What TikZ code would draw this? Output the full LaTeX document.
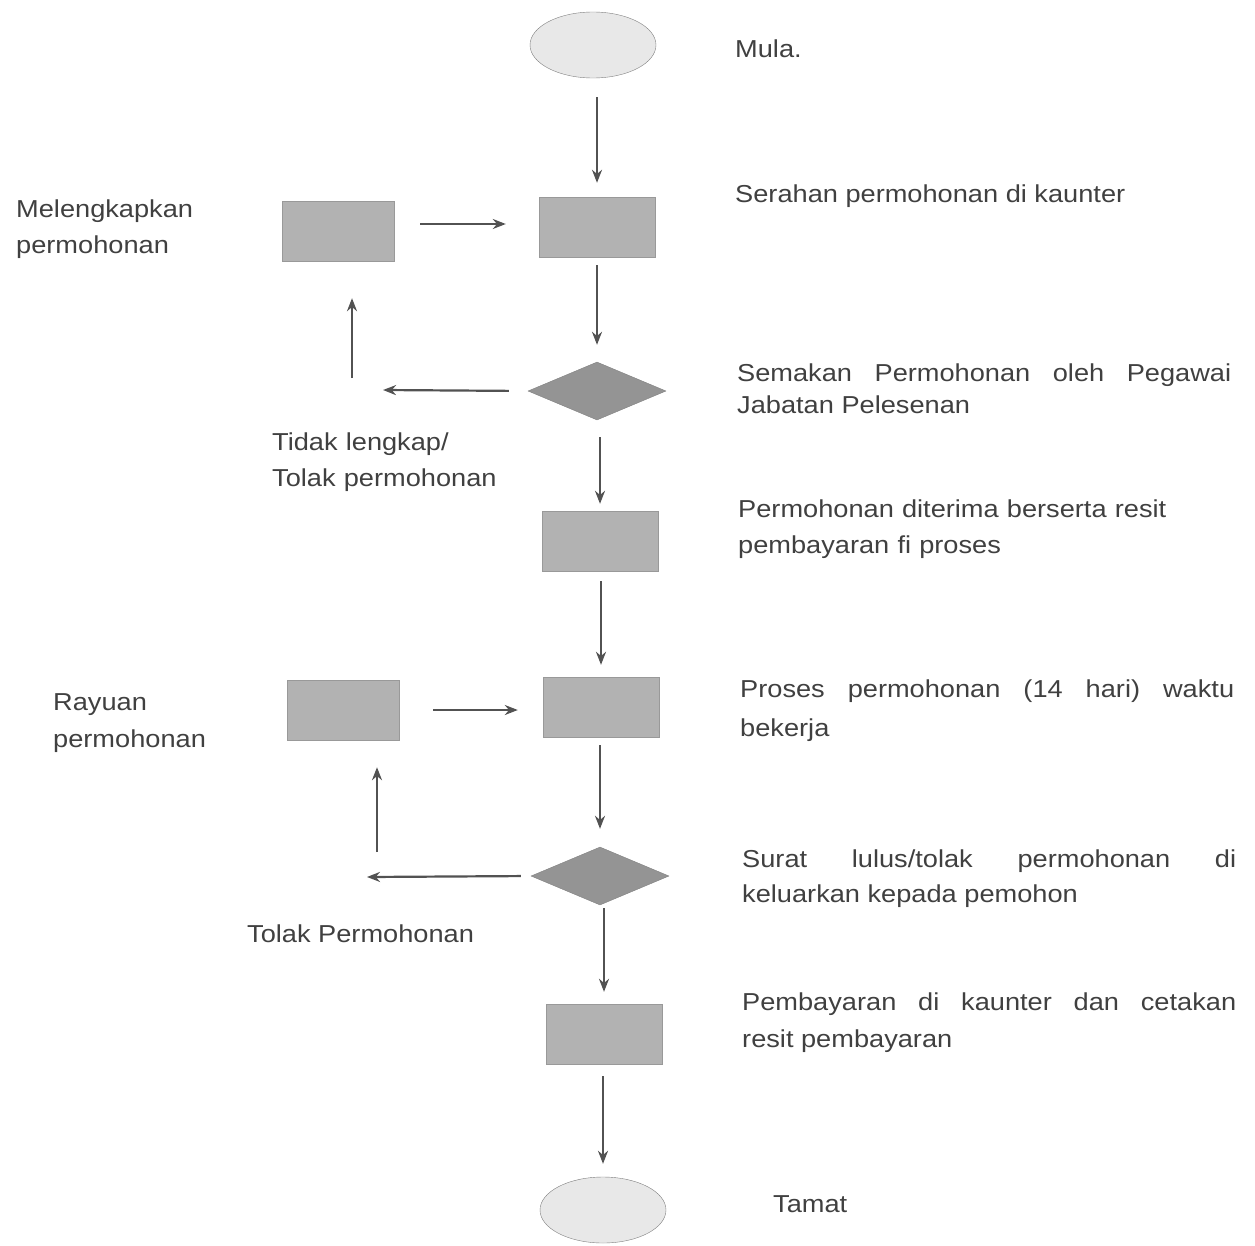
\documentclass[tikz,border=0pt]{standalone}
\usepackage{fontspec}
\setmainfont[FakeStretch=1.11]{Liberation Sans}
\usetikzlibrary{arrows.meta, shapes.geometric}

\tikzset{
  box/.style={rectangle, draw=black!40, fill=black!30, minimum width=116pt, minimum height=60pt, inner sep=0pt},
  lbox/.style={box, minimum width=112pt},
  mulatamat/.style={ellipse, draw=black!50, fill=black!9, minimum width=126pt, minimum height=66pt, inner sep=0pt},
  semak/.style={diamond, draw=black!50, fill=black!42, minimum width=138pt, minimum height=58pt, inner sep=0pt},
  arr/.style={-{Stealth[length=13pt,width=10pt]}, draw=black!68, line width=2.2pt},
  txt/.style={anchor=base west, inner sep=0pt, text=black!75, font=\fontsize{24.5}{36}\selectfont},
  para/.style={txt, text width=494pt, align=justify},
  lpara/.style={txt, text width=300pt, align=left},
}

\begin{document}
\begin{tikzpicture}[x=1pt,y=-1pt]
\useasboundingbox (0,0) rectangle (1255,1245);
%\draw[step=50,gray,very thin] (0,0) grid (1255,1245);
\node[mulatamat] (mula) at (593,45) {};
\node[box] (serah) at (597,227) {};
\node[lbox] (lengkap) at (338,231) {};
\node[semak] (semak1) at (597,391) {};
\node[box] (terima) at (600,541) {};
\node[box] (proses) at (601,707) {};
\node[lbox] (rayuan) at (343,710) {};
\node[semak] (semak2) at (600,876) {};
\node[box] (bayar) at (604,1034) {};
\node[mulatamat] (tamat) at (603,1210) {};

\node[txt] (tmula) at (735,57) {Mula.};
\node[txt] (tserah) at (735,202) {Serahan permohonan di kaunter};
\node[lpara] (tlengkap) at (16,217) {Melengkapkan\\permohonan};
\node[para, font=\fontsize{24.5}{32}\selectfont] (tsemak1) at (737,381) {Semakan Permohonan oleh Pegawai\linebreak Jabatan Pelesenan};
\node[lpara] (ttidak) at (272,450) {Tidak lengkap/\\Tolak permohonan};
\node[lpara, text width=494pt] (tterima) at (738,517) {Permohonan diterima berserta resit\\pembayaran fi proses};
\node[lpara, font=\fontsize{24.5}{37}\selectfont] (trayuan) at (53,710) {Rayuan\\permohonan};
\node[para, font=\fontsize{24.5}{39}\selectfont] (tproses) at (740,697) {Proses permohonan (14 hari) waktu\linebreak bekerja};
\node[para, font=\fontsize{24.5}{35}\selectfont] (tsemak2) at (742,867) {Surat lulus/tolak permohonan di\linebreak keluarkan kepada pemohon};
\node[txt] (ttolak) at (247,942) {Tolak Permohonan};
\node[para, font=\fontsize{24.5}{37}\selectfont] (tbayar) at (742,1010) {Pembayaran di kaunter dan cetakan\linebreak resit pembayaran};
\node[txt] (ttamat) at (773,1212) {Tamat};

\draw[arr, shorten <=19pt, shorten >=14pt] (mula.south -| serah.north) -- (serah.north);
\draw[arr, shorten <=8pt, shorten >=17pt] (serah.south -| semak1.north) -- (semak1.north);
\draw[arr, shorten <=17pt, shorten >=7pt] (semak1.south -| terima.north) -- (terima.north);
\draw[arr, shorten <=10pt, shorten >=12pt] (terima.south -| proses.north) -- (proses.north);
\draw[arr, shorten <=8pt, shorten >=18pt] (proses.south -| semak2.north) -- (semak2.north);
\draw[arr, shorten <=3pt, shorten >=12pt] (semak2.south -| bayar.north) -- (bayar.north);
\draw[arr, shorten <=12pt, shorten >=13pt] (bayar.south -| tamat.north) -- (tamat.north);

\draw[arr, shorten <=26pt, shorten >=33pt] ([yshift=7pt]lengkap.east) -- ([yshift=7pt]lengkap.east -| serah.west);
\draw[arr, shorten <=34pt, shorten >=25pt] (rayuan.east) -- (rayuan.east -| proses.west);

\coordinate (k1) at (383,390);
\coordinate (n1) at (352,378);
\draw[arr, shorten <=19pt] (semak1.west) -- (k1);
\draw[arr, shorten >=37pt] (n1) -- (n1 |- lengkap.south);

\coordinate (k2) at (367,877);
\coordinate (n2) at (377,852);
\draw[arr, shorten <=10pt] (semak2.west) -- (k2);
\draw[arr, shorten >=27pt] (n2) -- (n2 |- rayuan.south);
\end{tikzpicture}
\end{document}
